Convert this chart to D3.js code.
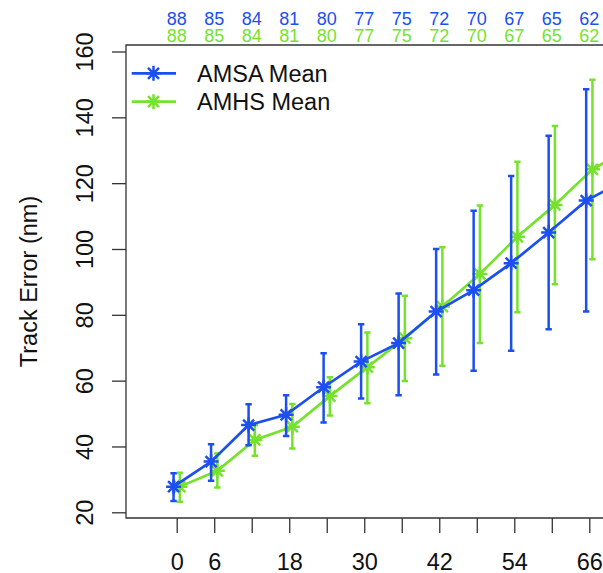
<!DOCTYPE html>
<html>
<head>
<meta charset="utf-8">
<script src="https://cdn.jsdelivr.net/npm/d3@7"></script>
<style>
  body { margin: 0; background: #fff; }
  svg { display: block; font-family: "Liberation Sans", Arial, sans-serif; }
</style>
</head>
<body>
<svg id="drawing_region"></svg>
<script>
// forecast hours (72 h point lies just past the right edge)
const hours = [0, 6, 12, 18, 24, 30, 36, 42, 48, 54, 60, 66, 72];

const amsaMean = [27.8, 35.4, 46.5, 49.6, 58.0, 65.8, 71.4, 81.0, 87.5, 95.7, 105.0, 114.7, 120.7];
const amsaLow  = [23.4, 29.6, 40.4, 43.2, 47.3, 54.6, 55.6, 61.9, 63.0, 69.1, 75.6, 81.0, null];
const amsaHigh = [31.9, 40.7, 52.8, 55.6, 68.3, 77.1, 86.5, 100.0, 111.6, 122.2, 134.4, 148.5, null];

const amhsMean = [27.8, 32.6, 42.0, 46.0, 55.3, 64.1, 72.9, 82.5, 92.4, 103.7, 113.4, 124.2, 130.6];
const amhsLow  = [23.2, 27.5, 37.2, 39.4, 49.4, 53.1, 59.9, 64.5, 71.4, 80.8, 89.3, 96.9, null];
const amhsHigh = [32.0, 37.9, 46.5, 52.9, 61.0, 74.6, 85.8, 100.5, 113.2, 126.5, 137.4, 151.4, null];

const amsaCount = [88, 85, 84, 81, 80, 77, 75, 72, 70, 67, 65, 62];
const amhsCount = [88, 85, 84, 81, 80, 77, 75, 72, 70, 67, 65, 62];

const yTicks = [20, 40, 60, 80, 100, 120, 140, 160];
const xTicks = [0, 6, 12, 18, 24, 30, 36, 42, 48, 54, 60, 66, 72];
const xLabels = [0, 6, 18, 30, 42, 54, 66];

const seriesNames = ['AMSA Mean', 'AMHS Mean'];
const blue = '#1c4ff0';
const green = '#76e22e';

const config = {
    width: 603,
    height: 573,
    box: {left: 126, top: 45, bottom: 518}
};

const svg = d3.select('#drawing_region')
    .attr('width', config.width)
    .attr('height', config.height);

const xscale = d3.scaleLinear()
    .domain([0, 66])
    .range([176.7, 589.3]);

const yscale = d3.scaleLinear()
    .domain([20, 160])
    .range([512.3, 51.5]);

const off = 0.5; // hours shift between the two series

// plot frame
svg.append('path')
    .attr('d', `M${config.width + 10},${config.box.top} H${config.box.left} V${config.box.bottom} H${config.width + 10}`)
    .attr('fill', 'none')
    .attr('stroke', '#333')
    .attr('stroke-width', 1.3);

// y axis
const yaxis = d3.axisLeft(yscale)
    .tickValues(yTicks)
    .tickSize(14)
    .tickSizeOuter(0);

const yaxis_group = svg.append('g')
    .attr('transform', `translate(${config.box.left}, 0)`)
    .call(yaxis);
yaxis_group.select('.domain').remove();
yaxis_group.selectAll('.tick line').attr('stroke', '#333').attr('stroke-width', 1.3);
yaxis_group.selectAll('.tick text')
    .attr('font-size', 23.5)
    .attr('fill', '#111')
    .attr('x', null).attr('dy', null)
    .attr('text-anchor', 'middle')
    .attr('transform', 'translate(-33, 0) rotate(-90)');

// x axis
const xaxis = d3.axisBottom(xscale)
    .tickValues(xTicks)
    .tickSize(15)
    .tickSizeOuter(0)
    .tickFormat(d => xLabels.includes(d) ? d : '');

const xaxis_group = svg.append('g')
    .attr('transform', `translate(0, ${config.box.bottom})`)
    .call(xaxis);
xaxis_group.select('.domain').remove();
xaxis_group.selectAll('.tick line').attr('stroke', '#333').attr('stroke-width', 1.3);
xaxis_group.selectAll('.tick text')
    .attr('font-size', 23.5)
    .attr('fill', '#111')
    .attr('dy', null)
    .attr('y', 52);

// y title
svg.append('text')
    .attr('transform', `translate(37, ${(config.box.top + config.box.bottom) / 2}) rotate(-90)`)
    .attr('text-anchor', 'middle')
    .attr('font-size', 23.5)
    .attr('fill', '#111')
    .text('Track Error (nm)');

// counts along the top
svg.append('g').selectAll('text')
    .data(amsaCount)
    .join('text')
    .attr('x', (d, i) => xscale(hours[i]))
    .attr('y', 25)
    .attr('text-anchor', 'middle')
    .attr('font-size', 18)
    .attr('fill', blue)
    .text(d => d);

svg.append('g').selectAll('text')
    .data(amhsCount)
    .join('text')
    .attr('x', (d, i) => xscale(hours[i]))
    .attr('y', 41.7)
    .attr('text-anchor', 'middle')
    .attr('font-size', 18)
    .attr('fill', green)
    .text(d => d);

const star = 'M-7.5,0H7.5M0,-7.5V7.5M-5.5,-5.5L5.5,5.5M-5.5,5.5L5.5,-5.5';

function drawSeries(mean, low, high, shift, color) {
    const pts = hours.map((h, i) => ({x: h + shift, m: mean[i], lo: low[i], hi: high[i]}));
    const g = svg.append('g');

    g.append('path')
        .datum(pts)
        .attr('fill', 'none')
        .attr('stroke', color)
        .attr('stroke-width', 2.7)
        .attr('d', d3.line().x(d => xscale(d.x)).y(d => yscale(d.m)));

    const bars = pts.filter(d => d.lo != null);
    g.selectAll('.bar')
        .data(bars)
        .join('path')
        .attr('class', 'bar')
        .attr('fill', 'none')
        .attr('stroke', color)
        .attr('stroke-width', 2.5)
        .attr('d', d => {
            const x = xscale(d.x), y0 = yscale(d.lo), y1 = yscale(d.hi);
            return `M${x},${y0}V${y1}M${x - 3.2},${y1}H${x + 3.2}M${x - 3.2},${y0}H${x + 3.2}`;
        });

    g.selectAll('.pt')
        .data(pts)
        .join('path')
        .attr('class', 'pt')
        .attr('fill', 'none')
        .attr('stroke', color)
        .attr('stroke-width', 2.5)
        .attr('transform', d => `translate(${xscale(d.x)}, ${yscale(d.m)})`)
        .attr('d', star);
}

drawSeries(amhsMean, amhsLow, amhsHigh, off, green);
drawSeries(amsaMean, amsaLow, amsaHigh, -off, blue);

// legend
const legend = svg.append('g');
[blue, green].forEach((c, i) => {
    const y = 73.3 + i * 28.4;
    legend.append('line')
        .attr('x1', 131.7).attr('x2', 176)
        .attr('y1', y).attr('y2', y)
        .attr('stroke', c).attr('stroke-width', 2.7);
    legend.append('path')
        .attr('transform', `translate(153.5, ${y})`)
        .attr('d', star)
        .attr('fill', 'none')
        .attr('stroke', c)
        .attr('stroke-width', 2.5);
    legend.append('text')
        .attr('x', 197)
        .attr('y', y + 8.3)
        .attr('font-size', 23.5)
        .attr('fill', '#111')
        .text(seriesNames[i]);
});
</script>
</body>
</html>
